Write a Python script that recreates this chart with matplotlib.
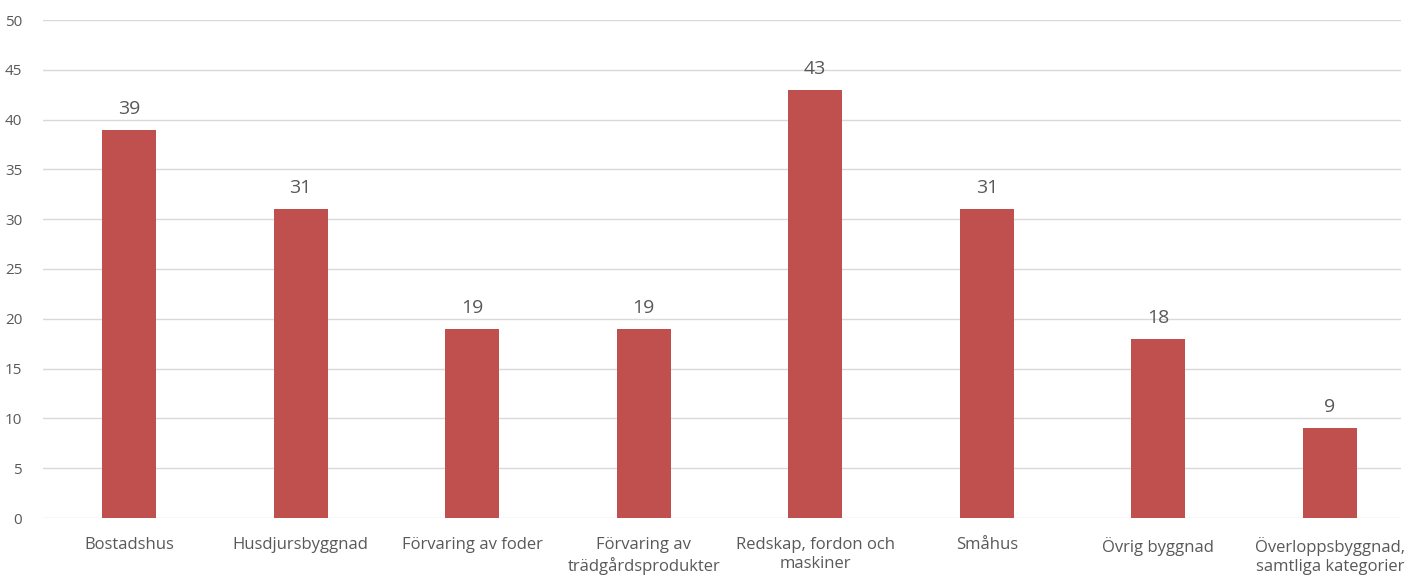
import matplotlib
matplotlib.use("Agg")
import matplotlib.pyplot as plt

categories = ["Bostadshus", "Husdjursbyggnad", "Förvaring av foder",
              "Förvaring av\nträdgårdsprodukter", "Redskap, fordon och\nmaskiner",
              "Småhus", "Övrig byggnad", "Överloppsbyggnad,\nsamtliga kategorier"]
values = [39, 31, 19, 19, 43, 31, 18, 9]
yticks = [0, 5, 10, 15, 20, 25, 30, 35, 40, 45, 50]

plt.rcParams['font.family'] = ['Open Sans', 'DejaVu Sans']
fig = plt.figure(figsize=(14.13, 5.76), dpi=100)
ax = fig.add_axes([43/1413, 1-518/576, 1358/1413, (518-20)/576])

x = list(range(len(categories)))
bars = ax.bar(x, values, width=0.315, color="#C0504D", zorder=3)
for xi, v in zip(x, values):
    ax.text(xi, v + 1.2, str(v), ha="center", va="bottom", fontsize=14, color="#595959")

ax.set_xlim(-0.501, 7.414)
ax.set_ylim(0, 50)
ax.set_yticks(yticks)
ax.set_yticklabels([str(t) for t in yticks], fontsize=11, color="#595959")
ax.set_xticks(x)
ax.set_xticklabels(categories, fontsize=12, color="#595959", linespacing=1.25, va="top")
ax.grid(axis="y", color="#D9D9D9", linewidth=1, zorder=0)
for s in ax.spines.values():
    s.set_visible(False)
ax.tick_params(axis="both", length=0)
ax.tick_params(axis="y", pad=15)
ax.tick_params(axis="x", pad=14)

fig.savefig("out.png", dpi=100)
